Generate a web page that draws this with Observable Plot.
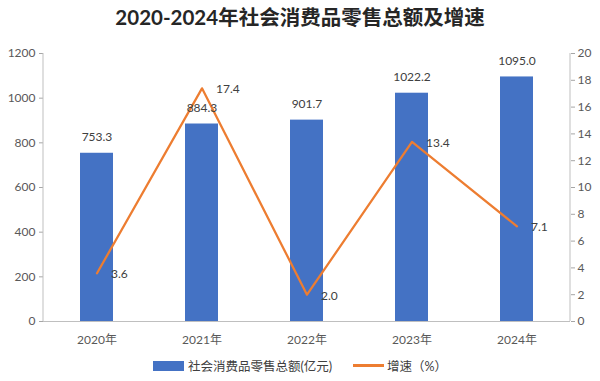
<!DOCTYPE html>
<html><head><meta charset="utf-8">
<script src="https://cdn.jsdelivr.net/npm/d3@7"></script>
<script src="https://cdn.jsdelivr.net/npm/@observablehq/plot@0.6"></script>
<style>
body{margin:0;background:#fff;font-family:Lato,"Noto Sans CJK SC",sans-serif;width:600px;height:381px;overflow:hidden;}
#title{height:36px;line-height:35px;text-align:center;font-size:20.5px;font-weight:bold;color:#262626;}
#chart{height:314px;}
#legend{display:flex;justify-content:center;align-items:center;height:31px;font-size:12.5px;color:#404040;}
.sw{display:inline-block;}
</style></head>
<body>
<div id="title">2020-2024年社会消费品零售总额及增速</div>
<div id="chart"></div>
<div id="legend">
  <span class="sw" style="width:31px;height:10px;background:#4472C4;margin-right:4px"></span>
  <span>社会消费品零售总额(亿元)</span>
  <span class="sw" style="width:31px;height:2.5px;background:#ED7D31;margin-left:21px;margin-right:3px"></span>
  <span>增速（%）</span>
</div>
<script>
const years = ["2020年", "2021年", "2022年", "2023年", "2024年"];
const sales = [753.3, 884.3, 901.7, 1022.2, 1095.0];
const growth = [3.6, 17.4, 2.0, 13.4, 7.1];
const salesTicks = [0, 200, 400, 600, 800, 1000, 1200];
const growthTicks = [0, 2, 4, 6, 8, 10, 12, 14, 16, 18, 20];

const k = salesTicks[salesTicks.length - 1] / growthTicks[growthTicks.length - 1];
const data = years.map((year, i) => ({year, sales: sales[i], growth: growth[i]}));

const W = 600, H = 314, mt = 17, mb = 29, ml = 43, mr = 30;
const chart = Plot.plot({
  width: W, height: H, marginTop: mt, marginBottom: mb, marginLeft: ml, marginRight: mr,
  style: {fontFamily: 'Lato,"Noto Sans CJK SC",sans-serif', fontSize: "12px", color: "#595959", background: "white", overflow: "visible"},
  x: {domain: years, paddingInner: 0.69, paddingOuter: 0.345, label: null},
  y: {domain: [0, 1200], label: null},
  marks: [
    Plot.barY(data, {x: "year", y: "sales", fill: "#4472C4"}),
    Plot.ruleY([0], {stroke: "#bfbfbf"}),
    Plot.line(data, {x: "year", y: d => d.growth * k, stroke: "#ED7D31", strokeWidth: 2.25}),
    Plot.text(data, {x: "year", y: "sales", text: d => d.sales.toFixed(1), dy: -16, fill: "#404040", fontSize: 12}),
    Plot.text(data, {x: "year", y: d => d.growth * k, text: d => d.growth.toFixed(1), dx: 14, dy: 1, textAnchor: "start", fill: "#404040", fontSize: 12}),
    Plot.axisY({ticks: salesTicks, tickFormat: v => String(v), tickSize: 4, tickPadding: 4, stroke: "#a6a6a6", label: null}),
    Plot.axisY({anchor: "right", ticks: growthTicks.map(v => v * k), tickFormat: v => String(v / k), tickSize: 4, tickPadding: 3, stroke: "#a6a6a6", label: null}),
    Plot.axisX({tickSize: 0, tickPadding: 14, label: null})
  ]
});
document.getElementById("chart").appendChild(chart);
const svg = d3.select(chart);
[ml, W - mr].forEach(x => {
  svg.append("line").attr("x1", x).attr("x2", x).attr("y1", mt).attr("y2", H - mb)
    .attr("stroke", "#bfbfbf").attr("stroke-width", 1);
});
</script>
</body></html>
